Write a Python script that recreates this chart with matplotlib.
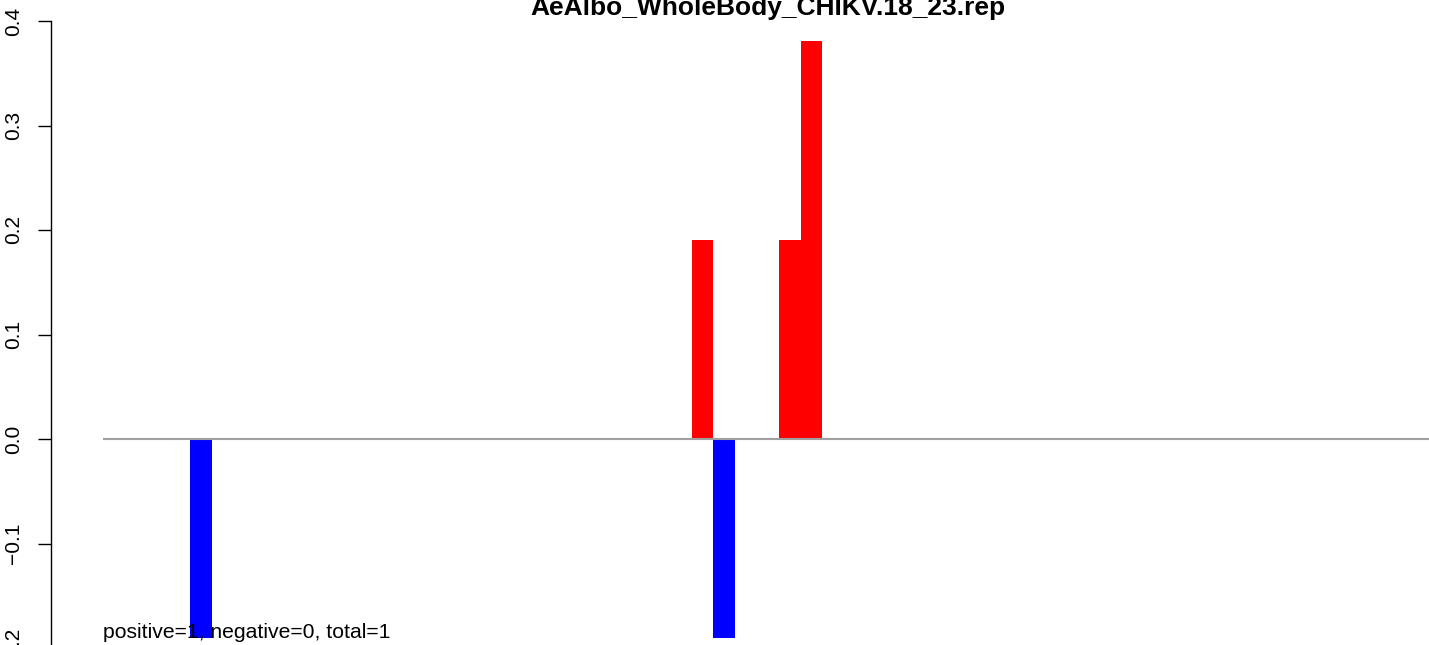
import numpy as np
import matplotlib
matplotlib.use("Agg")
import matplotlib.pyplot as plt

plt.rcParams['font.family'] = ['Liberation Sans', 'DejaVu Sans']

# data
positions = [4, 27, 28, 31, 32]
values = [-0.1905, 0.1905, -0.1905, 0.1905, 0.381]
title = "AeAlbo_WholeBody_CHIKV.18_23.rep"
note = "positive=1, negative=0, total=1"
yticks = [-0.2, -0.1, 0.0, 0.1, 0.2, 0.3, 0.4]
n_slots = 64

# layout in pixels (figure is 1429 x 645 at 100 dpi)
W, H = 1429, 645
slot_px = 21.8
x0_px = 103
ax_left_px, ax_right_px = 50.5, 1486
top_px, px_per_unit = 21, 1045.0
ybot = -0.25
bot_px = top_px + (0.4 - ybot) * px_per_unit

fig = plt.figure(figsize=(W / 100, H / 100), dpi=100)
ax = fig.add_axes([ax_left_px / W, (H - bot_px) / H,
                   (ax_right_px - ax_left_px) / W, (bot_px - top_px) / H])
ax.set_xlim(-(x0_px - ax_left_px) / slot_px, (ax_right_px - x0_px) / slot_px)
ax.set_ylim(ybot, 0.4)

colors = ['red' if v > 0 else 'blue' for v in values]
ax.bar(positions, values, width=1, align='edge', color=colors, linewidth=0, zorder=2)
ax.hlines(0, 0, n_slots, color='#a0a0a0', linewidth=1.5, zorder=3)

for s in ['top', 'right', 'bottom']:
    ax.spines[s].set_visible(False)
ax.spines['left'].set_bounds(min(yticks), max(yticks))
ax.spines['left'].set_linewidth(1.0)
ax.set_xticks([])
ax.set_yticks(yticks)
ax.set_yticklabels([f"{t:.1f}".replace('-', '\u2212') for t in yticks],
                   rotation=90, va='center', fontsize=15)
ax.tick_params(axis='y', length=9.2, width=1.0, pad=10.5)

ax.text(0, min(values), note, fontsize=15.2, ha='left', va='baseline')
fig.text(768 / W, 1 - 15 / H, title, fontsize=19, fontweight='bold',
         ha='center', va='baseline')

fig.savefig('out.png', dpi=100)
